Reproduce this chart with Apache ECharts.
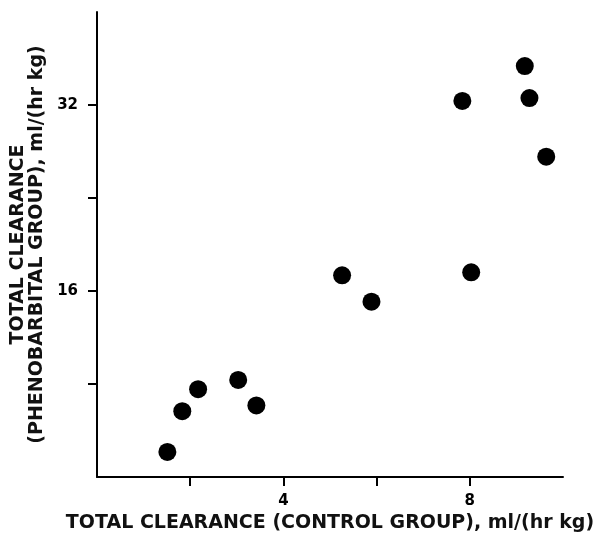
<!DOCTYPE html>
<html>
<head>
<meta charset="utf-8">
<script src="https://cdn.jsdelivr.net/npm/echarts@6/dist/echarts.min.js"></script>
<style>
  html, body { margin: 0; padding: 0; background: #fff; }
  #chart { width: 603px; height: 533px; }
</style>
</head>
<body>
<div id="chart"></div>
<script>
// control group clearance vs phenobarbital group clearance, ml/(hr kg)
var controlClearance = [1.51, 1.83, 2.17, 3.03, 3.42, 5.26, 5.89, 7.84, 8.03, 9.18, 9.28, 9.64];
var phenoClearance = [2.16, 5.66, 7.55, 8.35, 6.16, 17.35, 15.08, 32.35, 17.61, 35.35, 32.6, 27.55];
var xTicks = [2, 4, 6, 8];
var yTicks = [8, 16, 24, 32];
var xLabels = [4, 8];
var yLabels = [16, 32];

var points = [];
for (var i = 0; i < controlClearance.length; i++) {
  points.push([controlClearance[i], phenoClearance[i]]);
}

var chart = echarts.init(document.getElementById('chart'));
var font = 'DejaVu Sans, Liberation Sans, Arial, sans-serif';

var option = {
  animation: false,
  grid: { left: 97, right: 40, top: 12, bottom: 56, outerBoundsMode: 'none' },
  xAxis: {
    type: 'value',
    min: 0,
    max: 10,
    interval: 2,
    name: 'TOTAL CLEARANCE (CONTROL GROUP), ml/(hr kg)',
    nameLocation: 'middle',
    nameGap: 37,
    nameTextStyle: { color: '#111', fontSize: 19, fontWeight: 'bold', fontFamily: font },
    axisLine: { lineStyle: { color: '#000', width: 2 } },
    axisTick: { length: 9, customValues: xTicks, lineStyle: { color: '#000', width: 2 } },
    axisLabel: {
      color: '#000', fontSize: 15, fontWeight: 'bold', fontFamily: font, margin: 17,
      customValues: xLabels
    },
    splitLine: { show: false }
  },
  yAxis: {
    type: 'value',
    min: 0,
    max: 40,
    interval: 8,
    name: 'TOTAL CLEARANCE\n(PHENOBARBITAL GROUP), ml/(hr kg)',
    nameLocation: 'middle',
    nameGap: 43,
    nameTextStyle: { color: '#111', fontSize: 19, fontWeight: 'bold', lineHeight: 19, fontFamily: font, align: 'center' },
    axisLine: { lineStyle: { color: '#000', width: 2 } },
    axisTick: { length: 9, customValues: yTicks, lineStyle: { color: '#000', width: 2 } },
    axisLabel: {
      color: '#000', fontSize: 15, fontWeight: 'bold', fontFamily: font, margin: 19,
      customValues: yLabels
    },
    splitLine: { show: false }
  },
  series: [{
    type: 'scatter',
    symbol: 'circle',
    symbolSize: 18,
    itemStyle: { color: '#000', opacity: 1 },
    data: points
  }]
};

chart.setOption(option);
</script>
</body>
</html>
